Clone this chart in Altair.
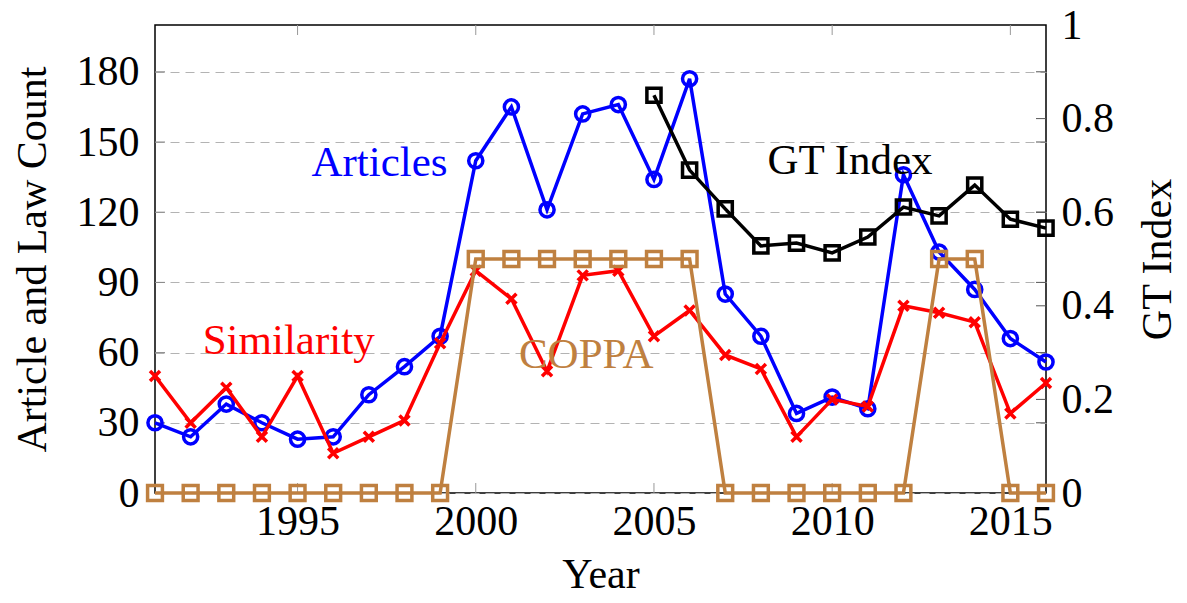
import altair as alt
import pandas as pd

# ---------------- data ----------------
years = [1991, 1992, 1993, 1994, 1995, 1996, 1997, 1998, 1999, 2000, 2001, 2002, 2003,
         2004, 2005, 2006, 2007, 2008, 2009, 2010, 2011, 2012, 2013, 2014, 2015, 2016]
articles = [30, 24, 38, 30, 23, 24, 42, 54, 67, 142, 165, 121, 162,
            166, 134, 177, 85, 67, 34, 41, 36, 136, 103, 87, 66, 56]
similarity = [50, 30, 45, 24, 50, 17, 24, 31, 64, 95, 83, 52, 93,
              95, 67, 78, 59, 53, 24, 40, 37, 80, 77, 73, 34, 47]
coppa = [0, 0, 0, 0, 0, 0, 0, 0, 0, 0.5, 0.5, 0.5, 0.5,
         0.5, 0.5, 0.5, 0, 0, 0, 0, 0, 0, 0.5, 0.5, 0, 0]
gt_years = [2005, 2006, 2007, 2008, 2009, 2010, 2011, 2012, 2013, 2014, 2015, 2016]
gt_index = [0.85, 0.69, 0.607, 0.528, 0.534, 0.513, 0.547, 0.611, 0.592, 0.658, 0.585, 0.566]

x_tick_years = [1995, 2000, 2005, 2010, 2015]
left_ticks = [0, 30, 60, 90, 120, 150, 180]
right_ticks = [0, 0.2, 0.4, 0.6, 0.8, 1]

label_text = ["Articles", "Similarity", "COPPA", "GT Index"]
label_year = [1997.3, 1994.75, 2003.1, 2010.5]
label_value = [141, 65, 59, 142]
label_color = ["#0000ff", "#ff0000", "#bf8040", "#000000"]

FONT = "Liberation Serif"
W, H = 891, 468
BLUE, RED, BROWN, BLACK = "#0000ff", "#ff0000", "#bf8040", "#000000"
LBL = 42
TTL = 42
LW = 3.5

main = pd.DataFrame({"year": years, "articles": articles,
                     "similarity": similarity, "coppa": coppa})
gt = pd.DataFrame({"year": gt_years, "gt": gt_index})
labels = pd.DataFrame({"year": label_year, "value": label_value,
                       "text": label_text, "color": label_color})
xt = pd.DataFrame({"year": x_tick_years})
lt = pd.DataFrame({"value": left_ticks[1:]})
rt = pd.DataFrame({"value": right_ticks[1:-1]})

xaxis = alt.Axis(values=x_tick_years, format="d", title="Year", ticks=False,
                 domain=False, grid=False, labelFont=FONT, labelFontSize=LBL,
                 titleFont=FONT, titleFontSize=TTL, titleFontWeight="normal",
                 labelPadding=8, titlePadding=12, labelColor="black", titleColor="black")
X = alt.X("year:Q", scale=alt.Scale(domain=[1991, 2016], nice=False, zero=False), axis=xaxis)

laxis = alt.Axis(values=left_ticks, title="Article and Law Count", ticks=False,
                 domain=False, grid=True, gridDash=[9, 6], gridColor="#b3b3b3",
                 gridWidth=1.2, labelFont=FONT, labelFontSize=LBL, labelPadding=16,
                 titleFont=FONT, titleFontSize=TTL, titleFontWeight="normal",
                 titlePadding=22, labelColor="black", titleColor="black")
lscale = alt.Scale(domain=[0, 200], nice=False, zero=True)

raxis = alt.Axis(values=right_ticks, orient="right", format="~g", title="GT Index",
                 ticks=False, domain=False, grid=False, labelFont=FONT,
                 labelFontSize=LBL, labelPadding=15, titleFont=FONT, titleFontSize=TTL,
                 titleFontWeight="normal", titlePadding=24, titleAngle=270,
                 titleBaseline="top", labelColor="black", titleColor="black")
rscale = alt.Scale(domain=[0, 1], nice=False, zero=True)


def YL(f):
    return alt.Y(f"{f}:Q", scale=lscale, axis=laxis)


def YR(f):
    return alt.Y(f"{f}:Q", scale=rscale, axis=raxis)


base = alt.Chart(main)

# left-scale layers
art_line = base.mark_line(color=BLUE, strokeWidth=LW).encode(x=X, y=YL("articles"))
art_pts = base.mark_point(shape="circle", filled=False, size=200, strokeWidth=3.5,
                          color=BLUE, opacity=1).encode(x=X, y=YL("articles"))
sim_line = base.mark_line(color=RED, strokeWidth=LW).encode(x=X, y=YL("similarity"))
sim_pts = base.mark_point(shape="M-1,-1L1,1M-1,1L1,-1", filled=False, size=100,
                          strokeWidth=3.5, color=RED, opacity=1).encode(x=X, y=YL("similarity"))
lab = alt.Chart(labels).mark_text(font=FONT, fontSize=43, align="center",
                                  baseline="middle").encode(
    x=X, y=YL("value"), text="text:N", color=alt.Color("color:N", scale=None))
lt_left = alt.Chart(lt).mark_rule(color="#888888", strokeWidth=1).encode(
    y=YL("value"), x=alt.value(0), x2=alt.value(10))
lt_right = alt.Chart(lt).mark_rule(color="#555555", strokeWidth=1).encode(
    y=YL("value"), x=alt.value(W - 10), x2=alt.value(W))
xt_bot = alt.Chart(xt).mark_rule(color="#999999", strokeWidth=1).encode(
    x=X, y=alt.value(H), y2=alt.value(H - 10))
xt_top = alt.Chart(xt).mark_rule(color="#999999", strokeWidth=1).encode(
    x=X, y=alt.value(0), y2=alt.value(10))

left = alt.layer(lt_left, lt_right, xt_bot, xt_top, art_line, art_pts,
                 sim_line, sim_pts, lab)

# right-scale layers
cop_line = base.mark_line(color=BROWN, strokeWidth=LW).encode(x=X, y=YR("coppa"))
cop_pts = base.mark_point(shape="square", filled=False, size=220, strokeWidth=3.5,
                          color=BROWN, opacity=1).encode(x=X, y=YR("coppa"))
gt_line = alt.Chart(gt).mark_line(color=BLACK, strokeWidth=LW).encode(x=X, y=YR("gt"))
gt_pts = alt.Chart(gt).mark_point(shape="square", filled=False, size=200, strokeWidth=3.5,
                                  color=BLACK, opacity=1).encode(x=X, y=YR("gt"))
rt_right = alt.Chart(rt).mark_rule(color="#555555", strokeWidth=1).encode(
    y=YR("value"), x=alt.value(W - 10), x2=alt.value(W))

right = alt.layer(rt_right, cop_line, cop_pts, gt_line, gt_pts)

chart = alt.layer(left, right).resolve_scale(y="independent").properties(
    width=W, height=H,
    autosize=alt.AutoSizeParams(type="none"),
    padding={"left": 147, "top": 17, "right": 133, "bottom": 102},
).configure_view(stroke="black", strokeWidth=1.5)

chart.save("out.html", embed_options={"renderer": "svg", "actions": False})
